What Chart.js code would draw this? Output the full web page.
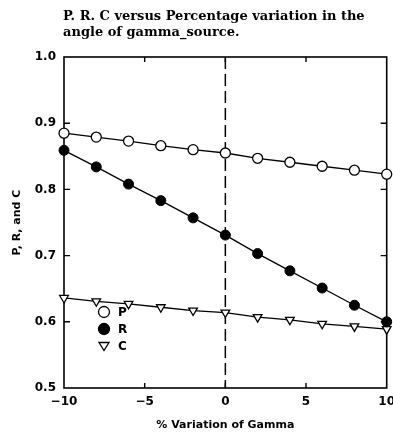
<!DOCTYPE html>
<html>
<head>
<meta charset="utf-8">
<title>P, R, C vs gamma variation</title>
<script src="https://cdn.jsdelivr.net/npm/chart.js@4.4.1/dist/chart.umd.min.js"></script>
<style>
  html, body { margin: 0; padding: 0; background: #fff; }
  #wrap { width: 393px; height: 436px; }
</style>
</head>
<body>
<div id="wrap"><canvas id="prcChart" width="393" height="436"></canvas></div>
<script>
// % variation of gamma and the three measures
const variation = [-10, -8, -6, -4, -2, 0, 2, 4, 6, 8, 10];
const pValues = [0.885, 0.879, 0.873, 0.866, 0.860, 0.855, 0.847, 0.841, 0.835, 0.829, 0.823];
const rValues = [0.859, 0.834, 0.808, 0.783, 0.757, 0.731, 0.703, 0.677, 0.651, 0.625, 0.600];
const cValues = [0.636, 0.631, 0.627, 0.622, 0.617, 0.614, 0.607, 0.603, 0.597, 0.593, 0.589];
const xTickMarks = [-5, 0, 5];
const yTickMarks = [0.6, 0.7, 0.8, 0.9];
const titleLines = ["P. R. C versus Percentage variation in the", "angle of gamma_source."];

function toPoints(vals) {
  return vals.map((v, i) => ({ x: variation[i], y: v }));
}

// frame, inward ticks and the dashed line at zero variation
const framePlugin = {
  id: "frame",
  beforeDatasetsDraw(chart) {
    const { ctx, chartArea: a, scales } = chart;
    ctx.save();
    ctx.strokeStyle = "#000";

    ctx.lineWidth = 1.5;
    ctx.setLineDash([12, 5]);
    const x0 = scales.x.getPixelForValue(0);
    ctx.beginPath();
    ctx.moveTo(x0, a.top);
    ctx.lineTo(x0, a.bottom);
    ctx.stroke();
    ctx.setLineDash([]);

    ctx.lineWidth = 1.6;
    ctx.strokeRect(a.left, a.top, a.right - a.left, a.bottom - a.top);

    ctx.lineWidth = 1.4;
    ctx.beginPath();
    xTickMarks.forEach(t => {
      const px = scales.x.getPixelForValue(t);
      ctx.moveTo(px, a.bottom); ctx.lineTo(px, a.bottom - 5);
      ctx.moveTo(px, a.top); ctx.lineTo(px, a.top + 5);
    });
    yTickMarks.forEach(t => {
      const py = scales.y.getPixelForValue(t);
      ctx.moveTo(a.left, py); ctx.lineTo(a.left + 6, py);
      ctx.moveTo(a.right, py); ctx.lineTo(a.right - 6, py);
    });
    ctx.stroke();
    ctx.restore();
  },
  afterDraw(chart) {
    const { ctx } = chart;
    ctx.save();
    ctx.fillStyle = "#000";
    ctx.font = "bold 13px 'DejaVu Serif'";
    ctx.textBaseline = "middle";
    ctx.textAlign = "left";
    titleLines.forEach((line, i) => ctx.fillText(line, 63, 17 + i * 16));

    // legend
    const lx = 104, ly = 312, step = 17;
    chart.data.datasets.forEach((ds, i) => {
      const y = ly + i * step;
      ctx.lineWidth = 1.3;
      ctx.strokeStyle = "#000";
      ctx.fillStyle = ds.pointBackgroundColor;
      ctx.beginPath();
      if (ds.pointStyle === "triangle") {
        const r = 5;
        ctx.moveTo(lx - r, y - r * 0.7);
        ctx.lineTo(lx + r, y - r * 0.7);
        ctx.lineTo(lx, y + r * 0.9);
        ctx.closePath();
      } else {
        ctx.arc(lx, y, 5.5, 0, Math.PI * 2);
      }
      ctx.fill();
      ctx.stroke();
      ctx.fillStyle = "#000";
      ctx.font = "bold 12px 'DejaVu Sans'";
      ctx.fillText(ds.label, lx + 14, y + 1);
    });
    ctx.restore();
  }
};

const axisFont = { family: "'DejaVu Sans'", size: 12, weight: "bold" };
const titleFont = { family: "'DejaVu Sans'", size: 11, weight: "bold" };

new Chart(document.getElementById("prcChart"), {
  type: "line",
  data: {
    datasets: [
      {
        label: "P",
        data: toPoints(pValues),
        borderColor: "#000",
        borderWidth: 1.3,
        pointStyle: "circle",
        pointRadius: 5,
        pointBackgroundColor: "#fff",
        pointBorderColor: "#000",
        pointBorderWidth: 1.3,
      },
      {
        label: "R",
        data: toPoints(rValues),
        borderColor: "#000",
        borderWidth: 1.3,
        pointStyle: "circle",
        pointRadius: 5,
        pointBackgroundColor: "#000",
        pointBorderColor: "#000",
        pointBorderWidth: 1,
      },
      {
        label: "C",
        data: toPoints(cValues),
        borderColor: "#000",
        borderWidth: 1.3,
        pointStyle: "triangle",
        pointRotation: 180,
        pointRadius: 5,
        pointBackgroundColor: "#fff",
        pointBorderColor: "#000",
        pointBorderWidth: 1.3,
      },
    ],
  },
  options: {
    responsive: false,
    animation: false,
    clip: false,
    layout: { padding: { top: 57, right: 2, left: 0, bottom: 0 } },
    plugins: {
      legend: { display: false },
      tooltip: { enabled: false },
    },
    scales: {
      x: {
        type: "linear",
        min: -10,
        max: 10,
        afterFit(scale) {
          scale.height = 48;
          scale.paddingLeft = 0;
          scale.paddingRight = 0;
        },
        grid: { display: false, drawTicks: false },
        border: { display: false },
        ticks: {
          stepSize: 5,
          padding: 7,
          color: "#000",
          font: axisFont,
          maxRotation: 0,
          callback: v => (v < 0 ? "\u2212" + Math.abs(v) : String(v)),
        },
        title: {
          display: true,
          text: "% Variation of Gamma",
          color: "#000",
          font: titleFont,
          padding: { top: 4, bottom: 4 },
        },
      },
      y: {
        min: 0.5,
        max: 1.0,
        afterFit(scale) {
          scale.width = 64;
          scale.paddingTop = 0;
          scale.paddingBottom = 0;
        },
        grid: { display: false, drawTicks: false },
        border: { display: false },
        ticks: {
          stepSize: 0.1,
          padding: 8,
          color: "#000",
          font: axisFont,
          callback: v => v.toFixed(1),
        },
        title: {
          display: true,
          text: "P, R, and C",
          color: "#000",
          font: titleFont,
          padding: { top: 11, bottom: 0 },
        },
      },
    },
  },
  plugins: [framePlugin],
});
</script>
</body>
</html>
